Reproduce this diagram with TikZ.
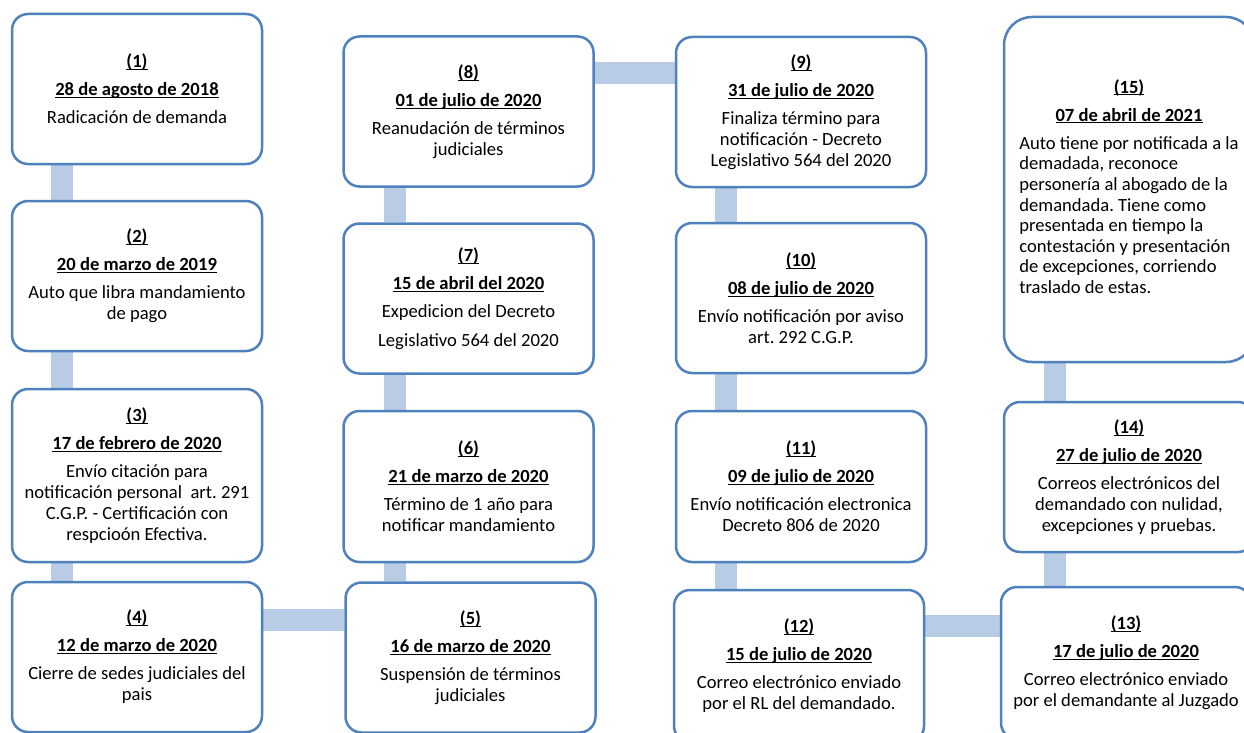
\documentclass[tikz,border=0pt]{standalone}
\usepackage{fontspec}
\setmainfont{Carlito}
\usetikzlibrary{backgrounds}

\definecolor{azulborde}{RGB}{79,129,189}
\definecolor{azulclaro}{RGB}{184,204,230}

\newcommand{\subr}[1]{\underline{\raisebox{0pt}[\height][0pt]{\textbf{#1}}}}
\newcommand{\encabezado}[2]{\subr{(#1)}\\[7pt]\subr{#2}\\[7pt]}

\begin{document}
\begin{tikzpicture}[
  x=1pt, y=-1pt,
  evento/.style={
    draw=azulborde, line width=2.5pt, fill=white,
    rounded corners=16pt,
    minimum width=250pt, minimum height=150pt,
    align=center, inner sep=0pt,
    font=\fontsize{18.6}{21}\selectfont\frenchspacing
  },
  enlace/.style={
    draw=azulclaro, line width=22pt
  },
]
  \useasboundingbox (0,0) rectangle (1244,733);

  % -------------------------------------------------------
  %  Columna 1
  % -------------------------------------------------------
  \node[evento] (e1) at (137, 89) {\encabezado{1}{28 de agosto de 2018}Radicación de demanda};
  \node[evento] (e2) at (137, 276) {\encabezado{2}{20 de marzo de 2019}Auto que libra mandamiento\\de pago};
  \node[evento, minimum height=173pt] (e3) at (137, 475.5) {\encabezado{3}{17 de febrero de 2020}Envío citación para\\notificación personal\ \ art. 291\\C.G.P. - Certificación con\\respcioón Efectiva.};
  \node[evento] (e4) at (137, 657) {\encabezado{4}{12 de marzo de 2020}Cierre de sedes judiciales del\\pais};

  % -------------------------------------------------------
  %  Columna 2
  % -------------------------------------------------------
  \node[evento] (e5) at (470.5, 657.5) {\encabezado{5}{16 de marzo de 2020}Suspensión de términos\\judiciales};
  \node[evento, minimum height=151pt] (e6) at (468.5, 486.5) {\encabezado{6}{21 de marzo de 2020}Término de 1 año para\\notificar mandamiento};
  \node[evento] (e7) at (468.5, 298.5) {\encabezado{7}{15 de abril del 2020}Expedicion del Decreto\\[8pt]Legislativo 564 del 2020};
  \node[evento] (e8) at (468.5, 111.5) {\encabezado{8}{01 de julio de 2020}Reanudación de términos\\judiciales};

  % -------------------------------------------------------
  %  Columna 3
  % -------------------------------------------------------
  \node[evento] (e9) at (801, 112) {\encabezado{9}{31 de julio de 2020}Finaliza término para\\notificación - Decreto\\Legislativo 564 del 2020};
  \node[evento] (e10) at (801, 298) {\encabezado{10}{08 de julio de 2020}Envío notificación por aviso\\art. 292 C.G.P.};
  \node[evento, minimum height=151pt] (e11) at (801, 486.5) {\encabezado{11}{09 de julio de 2020}Envío notificación electronica\\Decreto 806 de 2020};
  \node[evento, minimum height=152pt] (e12) at (799, 666) {\encabezado{12}{15 de julio de 2020}Correo electrónico enviado\\por el RL del demandado.};

  % -------------------------------------------------------
  %  Columna 4
  % -------------------------------------------------------
  \node[evento, minimum height=152pt] (e13) at (1126, 663) {\encabezado{13}{17 de julio de 2020}Correo electrónico enviado\\por el demandante al Juzgado};
  \node[evento] (e14) at (1129, 477) {\encabezado{14}{27 de julio de 2020}Correos electrónicos del\\demandado con nulidad,\\excepciones y pruebas.};
  \node[evento, minimum height=345pt, rounded corners=28pt] (e15) at (1129, 189.5) {\encabezado{15}{07 de abril de 2021}%
    \renewcommand{\arraystretch}{0.98}%
    \begin{tabular}[t]{@{}l@{}}
      Auto tiene por notificada a la\\
      demadada, reconoce\\
      personería al abogado de la\\
      demandada. Tiene como\\
      presentada en tiempo la\\
      contestación y presentación\\
      de excepciones, corriendo\\
      traslado de estas.
    \end{tabular}};

  % -------------------------------------------------------
  %  Enlaces (detras de las cajas)
  % -------------------------------------------------------
  \begin{pgfonlayer}{background}
    \fill[white] (0,0) rectangle (1244,733);

    \draw[enlace] ([xshift=-75]e1.south) -- ([xshift=-75]e2.north);
    \draw[enlace] ([xshift=-75]e2.south) -- ([xshift=-75]e3.north);
    \draw[enlace] ([xshift=-75]e3.south) -- ([xshift=-75]e4.north);

    \draw[enlace] ([yshift=37]e4.east) -- ([yshift=37]e4.east -| e5.west);

    \draw[enlace] ([xshift=-74]e6.south) -- ([xshift=-74]e6.south |- e5.north);
    \draw[enlace] ([xshift=-74]e7.south) -- ([xshift=-74]e6.north);
    \draw[enlace] ([xshift=-74]e8.south) -- ([xshift=-74]e7.north);

    \draw[enlace] ([yshift=38.5]e8.east) -- ([yshift=38.5]e8.east -| e9.west);

    \draw[enlace] ([xshift=-75]e9.south) -- ([xshift=-75]e10.north);
    \draw[enlace] ([xshift=-75]e10.south) -- ([xshift=-75]e11.north);
    \draw[enlace] ([xshift=-75]e11.south) -- ([xshift=-75]e11.south |- e12.north);

    \draw[enlace] ([yshift=40]e12.east) -- ([yshift=40]e12.east -| e13.west);

    \draw[enlace] ([xshift=-74]e15.south) -- ([xshift=-74]e14.north);
    \draw[enlace] ([xshift=-74]e14.south) -- ([xshift=-74]e14.south |- e13.north);
  \end{pgfonlayer}

\end{tikzpicture}
\end{document}
